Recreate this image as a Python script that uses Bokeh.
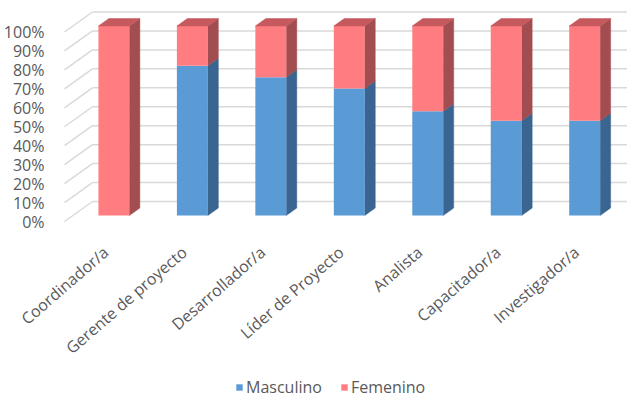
import numpy as np
from bokeh.plotting import figure
from bokeh.layouts import column
from bokeh.models import (FixedTicker, NumeralTickFormatter, Legend, LegendItem,
                          ColumnDataSource, Range1d)
from bokeh.embed import file_html
from bokeh.resources import INLINE

# ---------------- data ----------------
categories = ["Coordinador/a", "Gerente de proyecto", "Desarrollador/a",
              "Líder de Proyecto", "Analista", "Capacitador/a", "Investigador/a"]
masculino = [0.00, 0.79, 0.73, 0.67, 0.55, 0.50, 0.50]
femenino = [1.00, 0.21, 0.27, 0.33, 0.45, 0.50, 0.50]
series_names = ["Masculino", "Femenino"]
y_ticks = [0.0, 0.1, 0.2, 0.3, 0.4, 0.5, 0.6, 0.7, 0.8, 0.9, 1.0]

# ---------------- layout / pseudo-3D style constants ----------------
W, H = 627, 398
LEG_H = 24
MAIN_H = H - LEG_H
FRAME_L, FRAME_B = 58, 236
PX_X = 78.6          # px per category
PX_Y = 189.5         # px per 100 %
TICK0_PX = 104.5     # px of first category label anchor
FLOOR0_PY = 221      # px of 0 % at the front of the floor

BAR_SHIFT = 8 / PX_X
BAR_HALF = 15.5 / PX_X
BAR_LIFT = 6 / PX_Y
BAR_DX, BAR_DY = 10.5 / PX_X, 7.5 / PX_Y
WALL_X = -(TICK0_PX - 63) / PX_X
WALL_DX, WALL_DY = 28 / PX_X, 20 / PX_Y

BLUE, BLUE_SIDE, BLUE_TOP = "#5B9BD5", "#3A6590", "#4A7EAE"
PINK, PINK_SIDE, PINK_TOP = "#FF7C80", "#A24D50", "#C5595D"
GRID = "#D9D9D9"
TXT = "#595959"
FONT = "Open Sans"
LEG_X, LEG_Y = 176, 0      # legend position inside the legend strip (px)
OFF = -10                  # off-range location for the legend-swatch renderers

x_start = -(TICK0_PX - FRAME_L) / PX_X
x_end = x_start + (W - FRAME_L) / PX_X
y_start = -(FRAME_B - FLOOR0_PY) / PX_Y
y_end = FLOOR0_PY / PX_Y

p = figure(width=W, height=MAIN_H, output_backend="svg", toolbar_location=None,
           x_range=Range1d(x_start, x_end), y_range=Range1d(y_start, y_end),
           min_border_left=FRAME_L, min_border_right=0, min_border_top=0,
           min_border_bottom=MAIN_H - FRAME_B)
p.outline_line_color = None
p.xgrid.visible = False
p.ygrid.visible = False
p.background_fill_color = "white"
p.border_fill_color = "white"

# ---------------- walls (gridlines) ----------------
wx0, wy0, wx1, wy1 = [], [], [], []
for t in y_ticks:
    wx0.append(WALL_X); wy0.append(t)
    wx1.append(WALL_X + WALL_DX); wy1.append(t + WALL_DY)
p.segment(x0=wx0, y0=wy0, x1=wx1, y1=wy1, line_color=GRID, line_width=1.5)
p.segment(x0=[WALL_X + WALL_DX] * len(y_ticks), y0=[t + WALL_DY for t in y_ticks],
          x1=[x_end] * len(y_ticks), y1=[t + WALL_DY for t in y_ticks],
          line_color=GRID, line_width=1.5)

# ---------------- bars ----------------
idx = np.arange(len(categories))
xc = idx + BAR_SHIFT
xl, xr = xc - BAR_HALF, xc + BAR_HALF
m = np.array(masculino)
f = np.array(femenino)

def side_faces(bottom, top):
    xs, ys = [], []
    for i in range(len(categories)):
        if top[i] - bottom[i] <= 0:
            continue
        b, t = bottom[i] + BAR_LIFT, top[i] + BAR_LIFT
        xs.append([xr[i], xr[i] + BAR_DX, xr[i] + BAR_DX, xr[i]])
        ys.append([b, b + BAR_DY, t + BAR_DY, t])
    return xs, ys

def top_faces(top, mask):
    xs, ys = [], []
    for i in range(len(categories)):
        if not mask[i]:
            continue
        t = top[i] + BAR_LIFT
        xs.append([xl[i], xl[i] + BAR_DX, xr[i] + BAR_DX, xr[i]])
        ys.append([t, t + BAR_DY, t + BAR_DY, t])
    return xs, ys

# masculino segment
sx, sy = side_faces(np.zeros_like(m), m)
p.patches(sx, sy, fill_color=BLUE_SIDE, line_color=BLUE_SIDE, line_width=0.5)
p.vbar(x=xc, bottom=BAR_LIFT, top=m + BAR_LIFT, width=2 * BAR_HALF,
       fill_color=BLUE, line_color=None)
tx, ty = top_faces(m, (m > 0) & (f <= 0))
if tx:
    p.patches(tx, ty, fill_color=BLUE_TOP, line_color=BLUE_TOP, line_width=0.5)

# femenino segment
sx, sy = side_faces(m, m + f)
p.patches(sx, sy, fill_color=PINK_SIDE, line_color=PINK_SIDE, line_width=0.5)
src = ColumnDataSource(dict(x=xc, b=m + BAR_LIFT, t=m + f + BAR_LIFT))
p.vbar(x="x", bottom="b", top="t", width=2 * BAR_HALF, source=src,
       fill_color=PINK, line_color=None)
tx, ty = top_faces(m + f, f > 0)
p.patches(tx, ty, fill_color=PINK_TOP, line_color=PINK_TOP, line_width=0.5)

# ---------------- axes ----------------
ya = p.yaxis[0]
ya.ticker = FixedTicker(ticks=y_ticks)
ya.formatter = NumeralTickFormatter(format="0%")
ya.axis_line_color = None
ya.major_tick_line_color = None
ya.minor_tick_line_color = None
ya.major_label_standoff = 9
ya.major_label_text_font = FONT
ya.major_label_text_font_size = "16px"
ya.major_label_text_color = TXT

xa = p.xaxis[0]
xa.ticker = FixedTicker(ticks=list(range(len(categories))))
xa.major_label_overrides = {i: c for i, c in enumerate(categories)}
xa.major_label_orientation = np.deg2rad(41)
xa.axis_line_color = None
xa.major_tick_line_color = None
xa.minor_tick_line_color = None
xa.major_label_standoff = 7
xa.major_label_text_font = FONT
xa.major_label_text_font_size = "16px"
xa.major_label_text_color = TXT

# ---------------- legend (strip below the chart) ----------------
lg = figure(width=W, height=LEG_H, output_backend="svg", toolbar_location=None,
            x_range=Range1d(0, 1), y_range=Range1d(0, 1),
            x_axis_location=None, y_axis_location=None,
            min_border=0, min_border_left=0, min_border_right=0,
            min_border_top=0, min_border_bottom=0)
lg.outline_line_color = None
lg.xgrid.visible = False
lg.ygrid.visible = False
r_m = lg.vbar(x=[OFF], top=[OFF], bottom=[OFF], width=0.1, fill_color=BLUE, line_color=None)
r_f = lg.vbar(x=[OFF], top=[OFF], bottom=[OFF], width=0.1, fill_color=PINK, line_color=None)
legend = Legend(items=[LegendItem(label=series_names[0], renderers=[r_m]),
                       LegendItem(label=series_names[1], renderers=[r_f])],
                orientation="horizontal", location=(LEG_X, LEG_Y),
                border_line_color=None, background_fill_alpha=0,
                padding=0, margin=0, spacing=18, label_standoff=3,
                glyph_width=8, glyph_height=8, label_height=18,
                label_text_font=FONT, label_text_font_size="16px",
                label_text_color=TXT)
lg.add_layout(legend, "center")

layout = column(p, lg, spacing=0)
open("out.html", "w").write(file_html(layout, INLINE))
